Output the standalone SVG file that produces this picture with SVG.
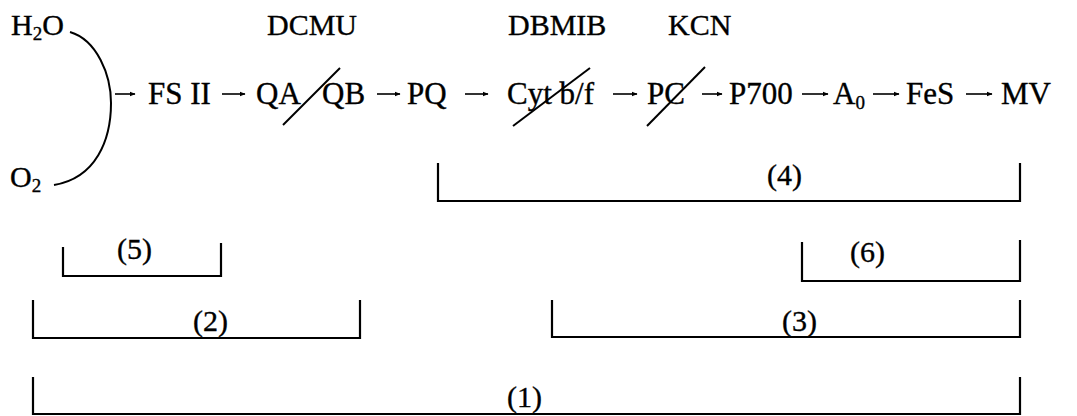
<svg xmlns="http://www.w3.org/2000/svg" width="1077" height="416" viewBox="0 0 1077 416">
<style>
text{font-family:"Liberation Serif","Times New Roman",serif;fill:#000;stroke:#000;stroke-width:0.35;}
.t{font-size:30px;}
.m{font-size:31px;}
.sub{font-size:19px;}
.ln{stroke:#000;stroke-width:2;fill:none;}
.br{stroke:#000;stroke-width:2.2;fill:none;}
.ar{stroke:#000;stroke-width:1.6;fill:none;marker-end:url(#ah);}
</style>
<defs>
<marker id="ah" viewBox="0 0 10 10" refX="9" refY="5" markerWidth="6" markerHeight="6" markerUnits="userSpaceOnUse" orient="auto">
<path d="M0,1 L10,5 L0,9 Z" fill="#000"/>
</marker>
</defs>
<rect width="1077" height="416" fill="#fff"/>
<g id="inputs">
<text class="t" x="11" y="35">H<tspan class="sub" dy="5">2</tspan><tspan dy="-5">O</tspan></text>
<text class="t" x="10" y="187">O<tspan class="sub" dy="5">2</tspan></text>
<path class="ln" d="M70,32 C97,40 111,75 111,103 C111,140 96,178 54,185"/>
</g>
<g id="inhibitors">
<text class="t" x="267" y="35">DCMU</text>
<text class="t" x="508" y="35">DBMIB</text>
<text class="t" x="668" y="35">KCN</text>
</g>
<g id="n-fsii"><text class="m" x="148" y="104">FS II</text></g>
<g id="n-qa"><text class="m" x="256" y="104">QA</text></g>
<g id="n-qb"><text class="m" x="322" y="104">QB</text><line class="ln" x1="283" y1="125" x2="340" y2="68"/></g>
<g id="n-pq"><text class="m" x="407" y="104">PQ</text></g>
<g id="n-cyt"><text class="m" x="507" y="104">Cyt b/f</text><line class="ln" x1="513" y1="126" x2="590" y2="68"/></g>
<g id="n-pc"><text class="m" x="647" y="104">PC</text><line class="ln" x1="647" y1="126" x2="705" y2="67"/></g>
<g id="n-p700"><text class="m" x="729" y="104">P700</text></g>
<g id="n-a0"><text class="m" x="833" y="104">A<tspan class="sub" dy="5">0</tspan></text></g>
<g id="n-fes"><text class="m" x="906" y="104">FeS</text></g>
<g id="n-mv"><text class="m" x="1001" y="104">MV</text></g>
<g id="connectors">
<line class="ar" x1="115" y1="94" x2="135" y2="94"/>
<line class="ar" x1="222" y1="94" x2="245" y2="94"/>
<line class="ar" x1="377" y1="94" x2="400" y2="94"/>
<line class="ar" x1="465" y1="94" x2="488" y2="94"/>
<line class="ar" x1="613" y1="94" x2="637" y2="94"/>
<line class="ar" x1="702" y1="94" x2="722" y2="94"/>
<line class="ar" x1="802" y1="94" x2="828" y2="94"/>
<line class="ar" x1="873" y1="94" x2="899" y2="94"/>
<line class="ar" x1="966" y1="94" x2="992" y2="94"/>
</g>
<g id="bracket-4">
<path class="br" d="M438,163 V201 H1020 V163"/>
<text class="t" x="767" y="185">(4)</text>
</g>
<g id="bracket-5">
<path class="br" d="M63,247 V276 H221 V243"/>
<text class="t" x="117" y="259">(5)</text>
</g>
<g id="bracket-6">
<path class="br" d="M802,242 V281 H1020 V240"/>
<text class="t" x="850" y="262">(6)</text>
</g>
<g id="bracket-2">
<path class="br" d="M33,300 V338 H360 V300"/>
<text class="t" x="193" y="331">(2)</text>
</g>
<g id="bracket-3">
<path class="br" d="M552,300 V337 H1020 V300"/>
<text class="t" x="782" y="331">(3)</text>
</g>
<g id="bracket-1">
<path class="br" d="M33,377 V414 H1020 V377"/>
<text class="t" x="507" y="407">(1)</text>
</g>
</svg>
